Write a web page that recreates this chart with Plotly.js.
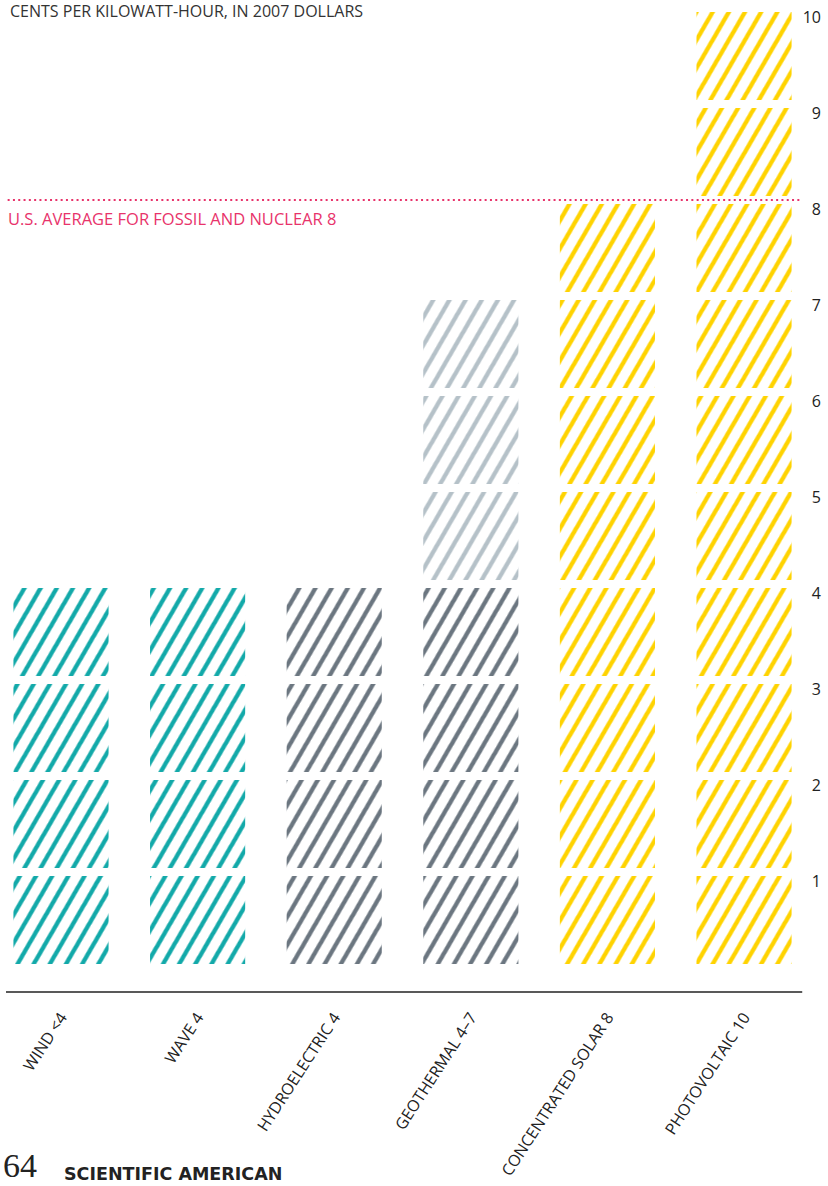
<!DOCTYPE html>
<html><head><meta charset="utf-8">
<script src="https://cdn.plot.ly/plotly-3.0.1.min.js"></script>
<style>html,body{margin:0;padding:0;background:#fff}#chart{width:828px;height:1186px}</style>
</head><body><div id="chart"></div>
<script>
const categories = ['WIND', 'WAVE', 'HYDROELECTRIC', 'GEOTHERMAL', 'CONCENTRATED SOLAR', 'PHOTOVOLTAIC'];
const tickLabels = ['WIND &lt;4', 'WAVE 4', 'HYDROELECTRIC 4', 'GEOTHERMAL 4–7', 'CONCENTRATED SOLAR 8', 'PHOTOVOLTAIC 10'];
const costLow = [4, 4, 4, 4, 8, 10];
const costHigh = [4, 4, 4, 7, 8, 10];
const barColors = ['#12a9a9', '#12a9a9', '#6b7680', '#6b7680', '#ffd300', '#ffd300'];
const rangeColor = '#b5c1c8';
const fossilNuclearAverage = 8;
const yTicks = [1, 2, 3, 4, 5, 6, 7, 8, 9, 10];

const FONT = '"Open Sans", sans-serif';
const maxUnits = Math.max(...costHigh);
const traces = [];
for (let k = 1; k <= maxUnits; k++) {
  const xs = [], cols = [];
  categories.forEach((c, i) => {
    if (costHigh[i] >= k) {
      xs.push(c);
      cols.push(k <= costLow[i] ? barColors[i] : rangeColor);
    }
  });
  traces.push({
    type: 'bar',
    x: xs,
    y: xs.map(() => 1),
    base: xs.map(() => k - 1),
    width: 0.755,
    marker: {
      color: '#ffffff',
      line: {color: '#ffffff', width: 8},
      pattern: {shape: '/', fgcolor: cols, bgcolor: '#ffffff', size: 14, solidity: 0.31, fillmode: 'replace'}
    },
    hoverinfo: 'skip',
    showlegend: false
  });
}

const layout = {
  width: 828, height: 1186,
  margin: {l: 6, r: 2, t: 4, b: 194},
  paper_bgcolor: '#ffffff', plot_bgcolor: '#ffffff',
  barmode: 'overlay',
  font: {family: FONT, color: '#222'},
  title: {
    text: 'CENTS PER KILOWATT-HOUR, IN 2007 DOLLARS',
    x: 10 / 828, xanchor: 'left', xref: 'container',
    y: 1 - 11 / 1186, yanchor: 'middle', yref: 'container',
    font: {family: FONT, size: 16, color: '#333'}
  },
  xaxis: {
    type: 'category', categoryorder: 'array', categoryarray: categories,
    range: [-0.4026, 5.6],
    tickvals: categories, ticktext: tickLabels,
    tickangle: -57, ticks: '', showline: false, showgrid: false, zeroline: false,
    ticklabelstandoff: 12,
    tickfont: {family: FONT, size: 16, color: '#222'},
    fixedrange: true
  },
  yaxis: {
    range: [-0.25, 10.0417],
    side: 'right', ticklabelposition: 'inside',
    tickvals: yTicks, ticktext: yTicks.map(String),
    ticks: '', showline: false, showgrid: false, zeroline: false,
    ticklabelshift: 9, ticklabelstandoff: 2,
    tickfont: {family: FONT, size: 16, color: '#222'},
    fixedrange: true
  },
  shapes: [
    {type: 'line', xref: 'paper', yref: 'y', x0: 0.002, x1: 0.968, y0: fossilNuclearAverage, y1: fossilNuclearAverage,
     line: {color: '#e8336b', width: 2, dash: '2px,3.3px'}},
    {type: 'line', xref: 'paper', yref: 'paper', x0: 0, x1: 0.971, y0: 0, y1: 0,
     line: {color: '#222', width: 1.5}}
  ],
  annotations: [
    {text: 'U.S. AVERAGE FOR FOSSIL AND NUCLEAR ' + fossilNuclearAverage, xref: 'paper', yref: 'y',
     x: 0, y: fossilNuclearAverage, xanchor: 'left', yanchor: 'top', xshift: 0, yshift: -5, showarrow: false,
     font: {family: FONT, size: 16.5, color: '#e8336b'}},
    {text: '64', xref: 'paper', yref: 'paper', x: -0.006, y: -0.196, xanchor: 'left', yanchor: 'bottom', showarrow: false,
     font: {family: '"Liberation Serif", serif', size: 34, color: '#222'}},
    {text: '<b>SCIENTIFIC AMERICAN</b>', xref: 'paper', yref: 'paper', x: 0.068, y: -0.196, xanchor: 'left', yanchor: 'bottom', showarrow: false,
     font: {family: '"DejaVu Sans", sans-serif', size: 17.5, color: '#222'}}
  ]
};

Plotly.newPlot('chart', traces, layout, {displayModeBar: false, staticPlot: true}).then(gd => {
  gd.querySelectorAll('pattern').forEach(p => p.setAttribute('patternTransform', 'rotate(-15)'));
});
</script>
</body></html>
